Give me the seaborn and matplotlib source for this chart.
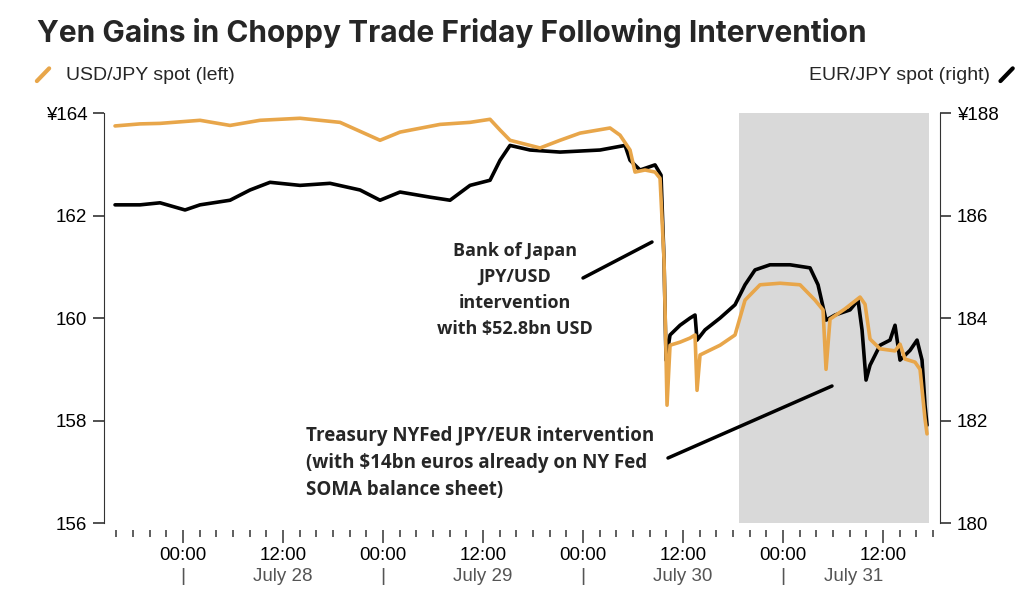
import numpy as np
import pandas as pd
import matplotlib
matplotlib.use("Agg")
import matplotlib.pyplot as plt
import seaborn as sns
from matplotlib.lines import Line2D
from matplotlib.ticker import MultipleLocator
import matplotlib.transforms as mtrans

# hours from July 28 00:00
usd_hours = [-8.16,-5.16,-2.76,2.04,5.64,9.24,14.04,18.84,23.64,26.04,30.84,34.44,36.84,38.04,39.24,42.84,45.24,47.64,51.24,52.44,53.64,54.24,55.44,56.64,57.24,57.72,58.08,58.44,59.64,60.84,61.44,61.68,62.04,64.44,66.24,67.44,69.24,71.64,74.04,75.84,76.80,77.16,77.64,79.44,81.24,81.84,82.44,83.64,85.44,86.04,86.64,87.84,88.44,89.04,89.28]
usd_vals = [163.75,163.79,163.80,163.86,163.76,163.86,163.90,163.82,163.47,163.63,163.78,163.82,163.88,163.67,163.47,163.32,163.47,163.61,163.71,163.57,163.28,162.85,162.89,162.85,162.73,161.13,158.30,159.47,159.53,159.61,159.67,158.59,159.28,159.47,159.67,160.35,160.65,160.68,160.65,160.35,160.16,159.00,159.98,160.18,160.41,160.27,159.59,159.40,159.36,159.49,159.20,159.14,159.00,158.03,157.74]
eur_hours = [-8.16,-5.16,-2.76,0.24,2.04,5.64,8.04,10.44,14.04,17.64,21.24,23.64,26.04,29.64,32.04,34.44,36.84,38.04,39.24,41.64,45.24,50.04,53.04,53.64,54.84,56.64,57.36,57.72,57.96,58.44,59.64,60.84,61.44,61.68,62.64,64.44,66.24,67.44,68.64,70.44,72.84,75.24,76.20,77.16,78.24,80.04,81.00,81.48,81.96,82.44,83.64,84.84,85.44,86.04,87.24,88.08,88.68,89.04,89.28]
eur_vals = [186.21,186.21,186.25,186.11,186.21,186.30,186.50,186.65,186.59,186.63,186.50,186.30,186.46,186.36,186.30,186.59,186.69,187.08,187.37,187.28,187.24,187.28,187.37,187.08,186.89,186.99,186.79,185.13,183.18,183.67,183.86,184.00,184.06,183.57,183.77,184.00,184.26,184.65,184.94,185.04,185.04,184.98,184.65,183.96,184.06,184.16,184.35,183.77,182.79,183.08,183.47,183.57,183.86,183.18,183.37,183.57,183.18,182.30,181.91]
left_ticks = [156,158,160,162,164]
left_labels = ["156","158","160","162","¥164"]
right_ticks = [180,182,184,186,188]
right_labels = ["180","182","184","186","¥188"]
time_ticks = [0,12,24,36,48,60,72,84]
time_labels = ["00:00","12:00"]*4
day_labels = ["July 28","July 29","July 30","July 31"]
day_pos = [12,36,60,80.5]
sep_pos = [0,24,48,72]
shade = (66.7, 89.5)

sns.set_style("white")
plt.rcParams['font.family'] = ['Liberation Sans','DejaVu Sans']
ORANGE = "#e8a64a"

fig = plt.figure(figsize=(10.24,6.05), dpi=100)
ax = fig.add_axes([0.1016,0.1355,0.8164,0.6775])  # EUR, right axis
ax2 = ax.twinx()  # USD, left axis
ax.axvspan(*shade, color="#d9d9d9", lw=0, zorder=0)
sns.lineplot(x=eur_hours, y=eur_vals, ax=ax, color="black", lw=2.6)
sns.lineplot(x=usd_hours, y=usd_vals, ax=ax2, color=ORANGE, lw=2.6)
ax.set_xlim(-9.48, 90.84)
ax.set_ylim(180,188); ax2.set_ylim(156,164)

for a in (ax, ax2):
    for s in ["top","bottom","left","right"]:
        a.spines[s].set_visible(False)
ax.spines["right"].set_visible(True); ax.spines["right"].set_color("#333")
ax2.spines["left"].set_visible(True); ax2.spines["left"].set_color("#333")
ax.yaxis.tick_right(); ax.yaxis.set_label_position("right")
ax2.yaxis.tick_left()
ax.set_yticks(right_ticks, right_labels)
ax2.set_yticks(left_ticks, left_labels)
ax.tick_params(axis="y", direction="out", length=8, width=1.2, colors="#333", labelcolor="black", labelsize=13.5, pad=4, left=False, right=True)
ax2.tick_params(axis="y", direction="out", length=8, width=1.2, colors="#333", labelcolor="black", labelsize=13.5, pad=4, left=True, right=False)
ax.set_xticks(time_ticks, time_labels)
ax.xaxis.set_minor_locator(MultipleLocator(2))
ax.tick_params(axis="x", which="major", direction="out", length=9, width=1.1, colors="#333", labelcolor="black", labelsize=13.5, pad=3, bottom=True, labelbottom=True)
ax.tick_params(axis="x", which="minor", direction="out", length=5, width=1.1, colors="#333", bottom=True)
ax.spines["bottom"].set_position(("outward",5))
ax.set_xlabel(""); ax.set_ylabel(""); ax2.set_ylabel("")
ax.grid(False); ax2.grid(False)

tr = mtrans.blended_transform_factory(ax.transData, fig.transFigure)
for p in sep_pos:
    ax.text(p, 0.047, "|", transform=tr, ha="center", va="center", fontsize=14, color="#555")
for p, l in zip(day_pos, day_labels):
    ax.text(p, 0.047, l, transform=tr, ha="center", va="center", fontsize=13.5, color="#555")

fig.text(0.036, 0.945, "Yen Gains in Choppy Trade Friday Following Intervention", fontsize=21.5, fontweight="bold", va="center", family=["Inter","DejaVu Sans"])
fig.text(0.064, 0.876, "USD/JPY spot (left)", fontsize=14, va="center")
fig.text(0.967, 0.876, "EUR/JPY spot (right)", fontsize=14, va="center", ha="right")
fig.add_artist(Line2D([0.036,0.048],[0.866,0.887], color=ORANGE, lw=3, transform=fig.transFigure))
fig.add_artist(Line2D([0.977,0.989],[0.866,0.887], color="black", lw=3, transform=fig.transFigure))

def fx(x): return x/1024
def fy(y): return 1-y/605
fig.add_artist(Line2D([fx(583),fx(652)],[fy(278),fy(242)], color="black", lw=2.5))
fig.add_artist(Line2D([fx(668),fx(832)],[fy(458),fy(386)], color="black", lw=2.5))
fig.text(fx(515), fy(290), "Bank of Japan\nJPY/USD\nintervention\nwith $52.8bn USD", ha="center", va="center",
         fontsize=13, fontweight="bold", linespacing=1.55, family=["Open Sans","DejaVu Sans"])
fig.text(fx(306), fy(463), "Treasury NYFed JPY/EUR intervention\n(with $14bn euros already on NY Fed\nSOMA balance sheet)", ha="left", va="center",
         fontsize=13.5, fontweight="bold", linespacing=1.45, family=["Open Sans","DejaVu Sans"])

fig.savefig("out.png", dpi=100)
